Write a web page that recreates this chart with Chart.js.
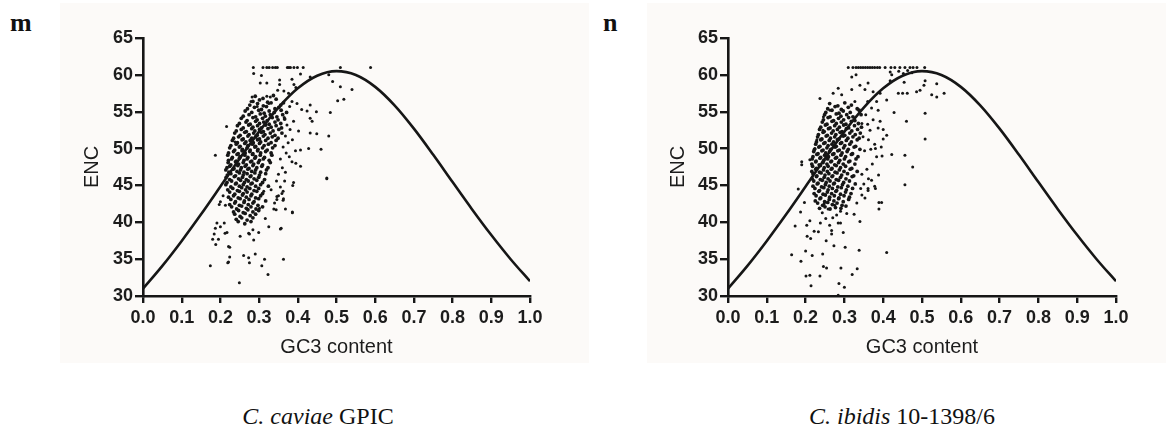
<!DOCTYPE html>
<html>
<head>
<meta charset="utf-8">
<title>ENC vs GC3</title>
<script src="https://cdn.jsdelivr.net/npm/chart.js@4.4.1/dist/chart.umd.min.js"></script>
<style>
  body { margin: 0; background: #fff; }
  #page { position: relative; width: 1166px; height: 428px; overflow: hidden; background: #fff; }
  .panel { position: absolute; top: 3px; height: 360px; background: #fcfaf8; }
  .panel canvas { display: block; }
  .tag { position: absolute; top: 10px; font: bold 26px "Liberation Serif", serif; line-height: 26px; color: #111; }
  .caption { position: absolute; top: 404px; width: 300px; text-align: center; font: 24px "Liberation Serif", serif; line-height: 24px; color: #111; }
</style>
</head>
<body>
<div id="page">
  <div class="tag" style="left:10px">m</div>
  <div class="panel" style="left:60px; width:529px"><canvas id="caviae" width="529" height="360"></canvas></div>
  <div class="tag" style="left:603px">n</div>
  <div class="panel" style="left:647px; width:519px"><canvas id="ibidis" width="519" height="360"></canvas></div>
  <div class="caption" style="left:168px"><i>C. caviae</i> GPIC</div>
  <div class="caption" style="left:752px"><i>C. ibidis</i> 10-1398/6</div>
</div>

<script>
// ---------------- data ----------------
const gc3Ticks = [0.0, 0.1, 0.2, 0.3, 0.4, 0.5, 0.6, 0.7, 0.8, 0.9, 1.0];
const encTicks = [30, 35, 40, 45, 50, 55, 60, 65];

// expected ENC curve
const curveGC3 = [0, 0.05, 0.1, 0.15, 0.2, 0.25, 0.3, 0.35, 0.4, 0.45, 0.5, 0.55, 0.6, 0.65, 0.7, 0.75, 0.8, 0.85, 0.9, 0.95, 1.0];
const curveENC = [31.0, 34.09, 37.47, 41.08, 44.85, 48.65, 52.3, 55.56, 58.17, 59.88, 60.5, 59.98, 58.37, 55.86, 52.7, 49.15, 45.45, 41.78, 38.27, 34.99, 32.0];

// C. caviae GPIC - genes [GC3, ENC]
const caviaeSpread = [
  [0.285,61],[0.31,61],[0.32,61],[0.326,61],[0.335,61],[0.342,61],[0.347,61],[0.373,61],[0.377,61],[0.381,61],[0.39,61],[0.399,61],[0.414,61],[0.51,61],[0.588,61],
  [0.286,60.2],[0.306,59.9],[0.303,58.9],[0.32,58.9],[0.353,59.3],[0.353,58.7],[0.385,59.4],[0.39,58.7],[0.395,58.3],[0.407,60.1],[0.348,57.9],[0.376,57.5],[0.364,57.8],
  [0.329,57.0],[0.32,57.1],[0.282,57.0],[0.279,56.4],[0.295,55.7],[0.325,56.1],[0.385,56.4],[0.398,56.1],[0.379,55.7],[0.432,55.9],[0.41,55.3],[0.424,55.1],[0.448,55.0],
  [0.432,54.1],[0.437,53.7],[0.484,54.9],[0.503,56.5],[0.519,56.7],[0.51,58.4],[0.54,58.0],[0.48,60.0],[0.49,59.1],[0.432,59.7],[0.389,53.7],[0.402,52.4],[0.432,52.1],
  [0.449,52.0],[0.48,51.7],[0.407,49.8],[0.428,50.0],[0.46,49.9],[0.394,49.7],[0.385,48.2],[0.395,48.0],[0.407,47.6],[0.475,46.0],[0.187,49.1],[0.216,53.0],[0.238,50.9],
  [0.365,54.2],[0.372,53.2],[0.38,52.6],[0.368,51.7],[0.375,50.8],[0.386,51.2],[0.362,50.2],[0.37,49.4],[0.355,48.6],[0.378,48.9],[0.36,47.4],[0.35,46.5],[0.368,46.8],
  [0.345,45.6],[0.355,44.8],[0.362,44.2],[0.35,43.6],[0.34,42.6],[0.357,39.2],[0.368,41.8],[0.386,41.4],[0.363,43.2],[0.338,41.8],[0.346,43.5],[0.387,45.0],[0.389,45.4],
  [0.174,34.1],[0.249,31.8],[0.221,34.6],[0.224,35.3],[0.26,35.5],[0.273,35.2],[0.275,34.5],[0.29,35.7],[0.307,34.1],[0.314,35.0],[0.323,32.9],[0.363,35.0],
  [0.184,38.4],[0.18,37.7],[0.188,37.0],[0.195,37.7],[0.187,39.2],[0.191,39.9],[0.2,39.4],[0.21,39.9],[0.217,38.6],[0.224,36.6],[0.219,34.5],[0.251,38.1],
  [0.286,37.6],[0.284,39.0],[0.275,38.4],[0.299,38.6],[0.355,39.1],[0.325,39.4],[0.316,40.5],[0.301,41.9],[0.344,41.7],[0.386,41.3],[0.366,45.6],[0.359,43.9],
  [0.362,43.0],[0.346,43.1],[0.331,44.4],[0.312,44.2],[0.475,45.9],[0.2,42.8],[0.197,42.4],[0.213,42.3],[0.207,43.6],[0.221,36.7],[0.212,38.5],[0.273,38.5]
];
const caviaeCore = [
  [0.29,57.1],[0.31,56.8],[0.337,57.2],
  [0.284,56.4],[0.301,56.6],[0.322,56.3],[0.344,56.7],
  [0.276,55.9],[0.296,56.1],[0.311,55.8],[0.331,56.2],[0.356,55.9],[0.363,56.2],
  [0.27,55.4],[0.288,55.6],[0.306,55.3],[0.319,55.7],[0.341,55.4],[0.351,55.6],
  [0.264,55.1],[0.281,54.9],[0.299,55.2],[0.313,54.8],[0.326,55.1],[0.339,54.9],[0.357,55.2],[0.371,54.9],
  [0.259,54.4],[0.274,54.6],[0.291,54.3],[0.303,54.7],[0.316,54.4],[0.329,54.6],[0.346,54.3],[0.361,54.6],
  [0.254,54.1],[0.269,53.8],[0.284,54.2],[0.295,53.9],[0.309,54.1],[0.321,53.8],[0.334,54.2],[0.349,53.9],[0.366,54.0],
  [0.249,53.4],[0.266,53.6],[0.277,53.3],[0.291,53.7],[0.301,53.4],[0.312,53.6],[0.326,53.3],[0.341,53.6],[0.356,53.4],
  [0.244,53.1],[0.259,52.8],[0.273,53.2],[0.284,52.9],[0.296,53.1],[0.306,52.8],[0.317,53.2],[0.331,52.9],[0.344,53.1],[0.358,52.8],
  [0.241,52.4],[0.254,52.6],[0.267,52.3],[0.281,52.7],[0.289,52.4],[0.301,52.6],[0.311,52.3],[0.323,52.7],[0.336,52.4],[0.351,52.6],
  [0.237,52.1],[0.251,51.8],[0.263,52.2],[0.274,51.9],[0.286,52.1],[0.295,51.8],[0.306,52.2],[0.315,51.9],[0.329,52.1],[0.341,51.8],[0.359,52.1],
  [0.234,51.4],[0.247,51.6],[0.259,51.3],[0.271,51.7],[0.281,51.4],[0.291,51.6],[0.301,51.3],[0.311,51.7],[0.323,51.4],[0.334,51.6],[0.349,51.4],
  [0.231,51.1],[0.244,50.8],[0.256,51.2],[0.266,50.9],[0.277,51.1],[0.285,50.8],[0.296,51.2],[0.304,50.9],[0.317,51.1],[0.331,50.8],[0.344,51.1],
  [0.227,50.4],[0.241,50.6],[0.251,50.3],[0.263,50.7],[0.271,50.4],[0.283,50.6],[0.291,50.3],[0.301,50.7],[0.313,50.4],[0.324,50.6],[0.341,50.4],
  [0.224,50.1],[0.237,49.8],[0.249,50.2],[0.257,49.9],[0.269,50.1],[0.277,49.8],[0.289,50.2],[0.297,49.9],[0.309,50.1],[0.321,49.8],[0.335,50.1],
  [0.221,49.4],[0.234,49.6],[0.246,49.3],[0.256,49.7],[0.264,49.4],[0.276,49.6],[0.284,49.3],[0.296,49.7],[0.304,49.4],[0.317,49.6],[0.331,49.4],
  [0.219,49.1],[0.231,48.8],[0.243,49.2],[0.251,48.9],[0.263,49.1],[0.271,48.8],[0.283,49.2],[0.291,48.9],[0.303,49.1],[0.314,48.8],[0.333,49.1],
  [0.221,48.4],[0.229,48.6],[0.241,48.3],[0.249,48.7],[0.261,48.4],[0.269,48.6],[0.281,48.3],[0.289,48.7],[0.301,48.4],[0.311,48.6],[0.326,48.4],
  [0.22,48.1],[0.227,47.8],[0.239,48.2],[0.247,47.9],[0.259,48.1],[0.267,47.8],[0.278,48.2],[0.286,47.9],[0.298,48.1],[0.309,47.8],[0.329,48.1],
  [0.217,47.4],[0.224,47.6],[0.235,47.3],[0.245,47.7],[0.254,47.4],[0.264,47.6],[0.274,47.3],[0.284,47.7],[0.294,47.4],[0.307,47.6],[0.323,47.4],
  [0.214,47.1],[0.222,46.8],[0.233,47.2],[0.243,46.9],[0.252,47.1],[0.261,46.8],[0.271,47.2],[0.281,46.9],[0.291,47.1],[0.304,46.8],[0.319,47.1],
  [0.218,46.4],[0.227,46.6],[0.239,46.3],[0.249,46.7],[0.259,46.4],[0.269,46.6],[0.279,46.3],[0.289,46.7],[0.301,46.4],[0.317,46.6],
  [0.215,46.1],[0.224,45.8],[0.236,46.2],[0.247,45.9],[0.257,46.1],[0.267,45.8],[0.277,46.2],[0.287,45.9],[0.299,46.1],[0.314,45.8],
  [0.217,45.4],[0.229,45.6],[0.241,45.3],[0.252,45.7],[0.262,45.4],[0.272,45.6],[0.282,45.3],[0.294,45.7],[0.309,45.4],
  [0.214,45.1],[0.227,44.8],[0.239,45.2],[0.249,44.9],[0.259,45.1],[0.269,44.8],[0.279,45.2],[0.291,44.9],[0.304,45.1],[0.324,44.9],
  [0.219,44.4],[0.232,44.6],[0.244,44.3],[0.255,44.7],[0.265,44.4],[0.276,44.6],[0.287,44.3],[0.299,44.6],
  [0.224,44.1],[0.237,43.8],[0.249,44.2],[0.259,43.9],[0.269,44.1],[0.281,43.8],[0.294,44.2],[0.309,43.9],
  [0.221,43.4],[0.234,43.6],[0.246,43.3],[0.257,43.7],[0.267,43.4],[0.279,43.6],[0.291,43.3],[0.304,43.6],
  [0.227,43.1],[0.239,42.8],[0.251,43.2],[0.262,42.9],[0.274,43.1],[0.287,42.8],[0.299,43.2],[0.317,42.9],
  [0.224,42.4],[0.237,42.6],[0.249,42.3],[0.261,42.7],[0.272,42.4],[0.284,42.6],[0.297,42.3],
  [0.229,42.1],[0.242,41.8],[0.255,42.2],[0.267,41.9],[0.279,42.1],[0.292,41.8],[0.309,42.1],
  [0.234,41.4],[0.247,41.6],[0.259,41.3],[0.271,41.7],[0.284,41.4],[0.299,41.6],
  [0.237,41.1],[0.251,40.8],[0.264,41.2],[0.277,40.9],[0.291,41.1],
  [0.241,40.4],[0.255,40.6],[0.269,40.3],[0.284,40.6],
  [0.246,40.1],[0.263,39.8],[0.279,40.1]
];

// C. ibidis 10-1398/6 - genes [GC3, ENC]
const ibidisSpread = [
  [0.31,61],[0.322,61],[0.33,61],[0.336,61],[0.342,61],[0.348,61],[0.354,61],[0.36,61],[0.366,61],[0.372,61],[0.378,61],[0.385,61],[0.391,61],
  [0.405,61],[0.42,61],[0.43,61],[0.443,61],[0.456,61],[0.469,61],[0.477,61],[0.487,61],[0.507,61],
  [0.319,59.7],[0.33,60.0],[0.418,60.4],[0.422,60.0],[0.44,60.5],[0.452,60.2],[0.463,60.6],[0.474,60.3],[0.418,59.2],[0.454,59.0],[0.508,59.2],[0.505,58.6],
  [0.538,58.8],[0.486,57.7],[0.495,57.9],[0.439,57.5],[0.45,57.5],[0.462,57.5],[0.525,57.3],[0.538,57.0],[0.557,57.5],[0.428,54.9],[0.508,54.8],[0.46,53.7],
  [0.508,51.3],[0.476,47.5],[0.456,49.1],[0.422,49.2],[0.409,51.8],[0.40,51.3],[0.383,48.9],[0.237,56.8],[0.271,57.5],[0.284,58.2],[0.293,57.3],[0.319,58.0],
  [0.34,58.6],[0.361,58.9],[0.353,58.0],[0.374,57.7],[0.392,57.5],[0.327,56.4],[0.36,56.4],[0.383,56.4],[0.409,56.6],[0.387,55.2],[0.374,53.9],[0.392,53.7],
  [0.387,52.8],[0.366,52.5],[0.348,51.6],[0.19,48.2],[0.19,47.8],[0.211,48.5],[0.224,50.0],[0.229,51.2],[0.24,51.2],[0.245,52.5],[0.246,54.3],[0.263,55.2],
  [0.355,54.6],[0.37,55.5],[0.345,53.4],[0.362,51.2],[0.378,50.6],[0.395,50.2],[0.352,49.7],[0.368,49.9],[0.372,47.9],[0.358,47.2],[0.345,46.5],[0.388,46.4],
  [0.362,45.9],[0.35,45.2],[0.37,45.7],[0.378,44.9],[0.342,44.6],[0.38,50.0],[0.4,52.6],[0.36,53.3],[0.397,49.0],
  [0.456,45.1],[0.409,35.9],[0.389,42.7],[0.389,41.8],[0.38,44.6],[0.361,44.6],[0.361,44.3],[0.353,43.3],[0.34,40.1],[0.338,36.2],[0.333,33.7],[0.32,32.9],
  [0.302,36.6],[0.297,38.6],[0.291,33.8],[0.286,31.7],[0.30,31.2],[0.284,30.1],[0.273,36.8],[0.267,38.4],[0.267,38.9],[0.284,39.9],[0.29,39.9],[0.254,33.8],
  [0.246,34.0],[0.244,35.7],[0.237,32.7],[0.214,31.4],[0.211,32.8],[0.201,32.7],[0.217,35.5],[0.20,36.1],[0.188,34.7],[0.164,35.6],[0.173,39.5],[0.204,38.1],
  [0.213,37.8],[0.222,38.8],[0.233,38.7],[0.203,39.6],[0.211,40.2],[0.187,41.4],[0.197,42.7],[0.181,44.5],[0.253,37.5],[0.252,40.5],[0.306,41.2],[0.325,41.1],
  [0.332,42.6],[0.345,43.7],[0.28,41.0],[0.396,42.7],[0.243,41.3],[0.258,41.8],[0.27,40.6],[0.262,39.6],[0.238,39.9],[0.29,41.5],[0.275,42.3],[0.248,42.5]
];
const ibidisCore = [
  [0.262,56.1],[0.283,55.8],[0.301,56.2],[0.318,55.9],
  [0.257,55.4],[0.276,55.7],[0.292,55.3],[0.31,55.6],[0.333,55.4],
  [0.252,54.9],[0.268,55.2],[0.286,54.8],[0.297,55.1],[0.315,54.9],[0.338,55.2],
  [0.249,54.6],[0.263,54.3],[0.279,54.7],[0.291,54.4],[0.306,54.6],[0.322,54.3],[0.343,54.6],
  [0.246,53.9],[0.258,54.2],[0.272,53.8],[0.285,54.1],[0.298,53.9],[0.311,54.2],[0.327,53.8],
  [0.243,53.6],[0.255,53.3],[0.268,53.7],[0.279,53.4],[0.292,53.6],[0.304,53.3],[0.318,53.7],[0.336,53.4],
  [0.239,52.9],[0.251,53.2],[0.263,52.8],[0.275,53.1],[0.287,52.9],[0.298,53.2],[0.311,52.8],[0.326,53.1],[0.344,52.9],
  [0.236,52.6],[0.248,52.3],[0.259,52.7],[0.271,52.4],[0.282,52.6],[0.294,52.3],[0.305,52.7],[0.319,52.4],[0.334,52.6],
  [0.233,51.9],[0.245,52.2],[0.256,51.8],[0.267,52.1],[0.278,51.9],[0.289,52.2],[0.301,51.8],[0.314,52.1],[0.328,51.9],[0.341,52.1],
  [0.231,51.6],[0.242,51.3],[0.253,51.7],[0.264,51.4],[0.275,51.6],[0.286,51.3],[0.297,51.7],[0.309,51.4],[0.322,51.6],[0.338,51.4],
  [0.228,50.9],[0.239,51.2],[0.25,50.8],[0.261,51.1],[0.272,50.9],[0.282,51.2],[0.293,50.8],[0.305,51.1],[0.318,50.9],[0.333,51.2],
  [0.226,50.6],[0.237,50.3],[0.247,50.7],[0.258,50.4],[0.268,50.6],[0.279,50.3],[0.29,50.7],[0.301,50.4],[0.314,50.6],[0.329,50.3],
  [0.223,49.9],[0.234,50.2],[0.245,49.8],[0.255,50.1],[0.265,49.9],[0.276,50.2],[0.287,49.8],[0.298,50.1],[0.31,49.9],[0.325,50.2],[0.34,49.9],
  [0.221,49.6],[0.232,49.3],[0.242,49.7],[0.252,49.4],[0.262,49.6],[0.273,49.3],[0.283,49.7],[0.294,49.4],[0.307,49.6],[0.321,49.3],
  [0.219,48.9],[0.229,49.2],[0.239,48.8],[0.249,49.1],[0.259,48.9],[0.27,49.2],[0.28,48.8],[0.291,49.1],[0.303,48.9],[0.318,49.2],[0.335,48.9],
  [0.217,48.6],[0.227,48.3],[0.237,48.7],[0.247,48.4],[0.257,48.6],[0.267,48.3],[0.277,48.7],[0.288,48.4],[0.3,48.6],[0.314,48.3],[0.33,48.6],
  [0.216,47.9],[0.226,48.2],[0.235,47.8],[0.245,48.1],[0.255,47.9],[0.265,48.2],[0.275,47.8],[0.285,48.1],[0.297,47.9],[0.311,48.2],[0.327,47.9],
  [0.218,47.6],[0.228,47.3],[0.238,47.7],[0.248,47.4],[0.258,47.6],[0.268,47.3],[0.279,47.7],[0.29,47.4],[0.303,47.6],[0.319,47.3],
  [0.216,46.9],[0.226,47.2],[0.236,46.8],[0.246,47.1],[0.256,46.9],[0.266,47.2],[0.276,46.8],[0.287,47.1],[0.299,46.9],[0.315,47.2],[0.333,46.9],
  [0.219,46.6],[0.229,46.3],[0.24,46.7],[0.25,46.4],[0.26,46.6],[0.27,46.3],[0.281,46.7],[0.293,46.4],[0.308,46.6],[0.324,46.3],
  [0.217,45.9],[0.228,46.2],[0.238,45.8],[0.248,46.1],[0.258,45.9],[0.268,46.2],[0.279,45.8],[0.29,46.1],[0.304,45.9],[0.32,46.2],
  [0.221,45.6],[0.232,45.3],[0.243,45.7],[0.253,45.4],[0.263,45.6],[0.274,45.3],[0.285,45.7],[0.298,45.4],[0.313,45.6],
  [0.219,44.9],[0.23,45.2],[0.241,44.8],[0.251,45.1],[0.261,44.9],[0.272,45.2],[0.283,44.8],[0.295,45.1],[0.309,44.9],[0.328,45.2],
  [0.224,44.6],[0.236,44.3],[0.247,44.7],[0.258,44.4],[0.269,44.6],[0.28,44.3],[0.292,44.7],[0.305,44.4],[0.321,44.6],
  [0.222,43.9],[0.234,44.2],[0.245,43.8],[0.256,44.1],[0.267,43.9],[0.278,44.2],[0.29,43.8],[0.303,44.1],[0.317,43.9],
  [0.227,43.6],[0.239,43.3],[0.251,43.7],[0.262,43.4],[0.274,43.6],[0.286,43.3],[0.299,43.6],[0.313,43.4],
  [0.225,42.9],[0.237,43.2],[0.249,42.8],[0.261,43.1],[0.273,42.9],[0.285,43.2],[0.297,42.8],[0.311,43.1],
  [0.231,42.6],[0.244,42.3],[0.257,42.7],[0.269,42.4],[0.281,42.6],[0.294,42.3],
  [0.236,41.9],[0.25,42.1],[0.263,41.8],[0.277,42.0],[0.291,41.9],[0.304,42.2]
];

// ---------------- drawing ----------------
const ink = '#161616';
const tickFont = { family: 'Liberation Sans', size: 18, weight: 'bold' };
const titleFont = { family: 'Liberation Sans', size: 20 };

function toXY(pairs) {
  return pairs.map(p => ({ x: p[0], y: p[1] }));
}

function drawPanel(id, spread, core, yAxisWidth, padRight, yTitlePad) {
  new Chart(document.getElementById(id), {
    type: 'scatter',
    data: {
      datasets: [
        {
          data: toXY(spread),
          pointRadius: 1.5,
          pointBackgroundColor: ink,
          pointBorderWidth: 0,
          order: 3
        },
        {
          data: toXY(core),
          pointRadius: 1.9,
          pointBackgroundColor: ink,
          pointBorderWidth: 0,
          order: 2
        },
        {
          data: curveGC3.map((g, i) => ({ x: g, y: curveENC[i] })),
          showLine: true,
          borderColor: ink,
          borderWidth: 2.6,
          pointRadius: 0,
          cubicInterpolationMode: 'monotone',
          fill: false,
          order: 1
        }
      ]
    },
    options: {
      responsive: false,
      animation: false,
      events: [],
      layout: { padding: { left: 0, right: padRight, top: 35, bottom: 0 } },
      plugins: { legend: { display: false }, tooltip: { enabled: false } },
      scales: {
        x: {
          type: 'linear',
          min: 0,
          max: 1,
          afterBuildTicks: s => { s.ticks = gc3Ticks.map(v => ({ value: v })); },
          afterFit: s => { s.height = 67; },
          border: { color: ink, width: 2.6 },
          grid: { drawOnChartArea: false, drawTicks: true, tickLength: 7, color: ink, lineWidth: 2.4 },
          ticks: { font: tickFont, color: '#1c1c1c', padding: 4, autoSkip: false, maxRotation: 0, minRotation: 0,
                   callback: v => Number(v).toFixed(1) },
          title: { display: true, text: 'GC3 content', font: titleFont, color: '#1c1c1c', padding: { top: 0, bottom: 4 } }
        },
        y: {
          type: 'linear',
          min: 30,
          max: 65,
          afterBuildTicks: s => { s.ticks = encTicks.map(v => ({ value: v })); },
          afterFit: s => { s.width = yAxisWidth; },
          border: { color: ink, width: 2.6 },
          grid: { drawOnChartArea: false, drawTicks: true, tickLength: 8, color: ink, lineWidth: 2.4 },
          ticks: { font: tickFont, color: '#1c1c1c', padding: 2, autoSkip: false },
          title: { display: true, text: 'ENC', font: titleFont, color: '#1c1c1c', padding: { top: yTitlePad, bottom: 0 } }
        }
      }
    }
  });
}

drawPanel('caviae', caviaeSpread, caviaeCore, 83, 59, 20);
drawPanel('ibidis', ibidisSpread, ibidisCore, 81, 50, 19);
</script>
</body>
</html>
